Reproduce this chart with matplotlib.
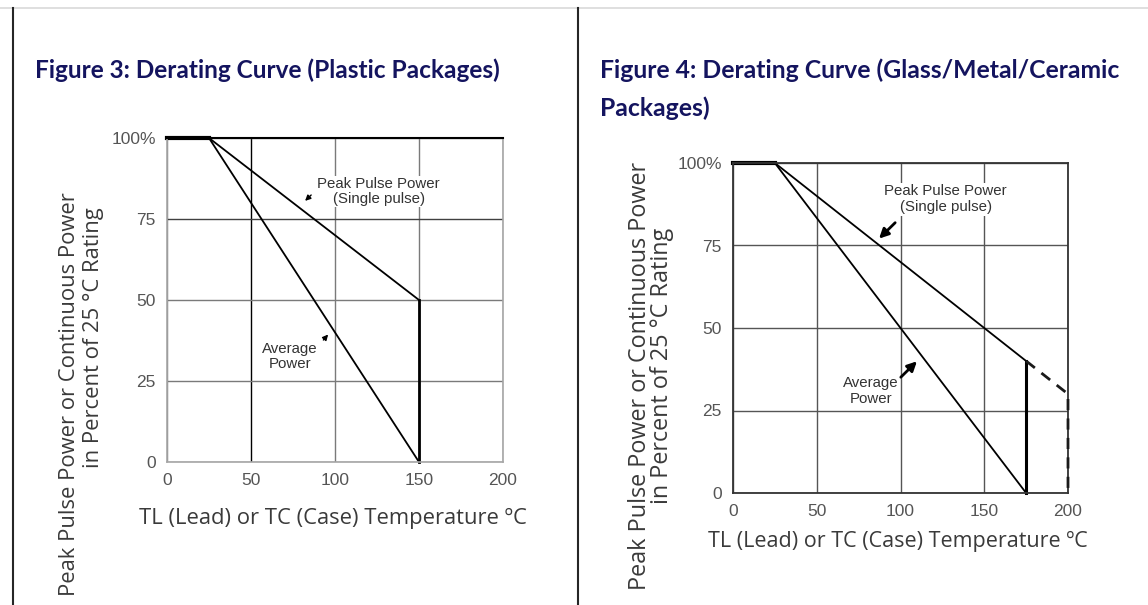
import matplotlib.pyplot as plt
from matplotlib.lines import Line2D

# --- data ---
temp_ticks = [0, 50, 100, 150, 200]
temp_labels = ['0', '50', '100', '150', '200']
pct_ticks = [0, 25, 50, 75, 100]
pct_labels = ['0', '25', '50', '75', '100%']

# Figure 3 (plastic)
plastic_peak_x = [0, 25, 150]
plastic_peak_y = [100, 100, 50]
plastic_avg_x = [25, 150]
plastic_avg_y = [100, 0]
plastic_cut_x = [150, 150]
plastic_cut_y = [50, 0]

# Figure 4 (glass/metal/ceramic)
glass_peak_x = [0, 25, 175]
glass_peak_y = [100, 100, 40]
glass_avg_x = [25, 175]
glass_avg_y = [100, 0]
glass_cut_x = [175, 175]
glass_cut_y = [40, 0]
glass_ext_x = [175, 200, 200]
glass_ext_y = [40, 30, 0]

W, H = 1148, 605
fig = plt.figure(figsize=(W / 100, H / 100), dpi=100)


def fx(px):
    return px / W


def fy(py):
    return 1 - py / H


# page frame lines
fig.add_artist(Line2D([0, 1], [fy(8), fy(8)], color='#d9d9d9', lw=1.2))
fig.add_artist(Line2D([fx(13), fx(13)], [fy(8), 0], color='#262626', lw=1.5))
fig.add_artist(Line2D([fx(578), fx(578)], [fy(8), 0], color='#262626', lw=1.5))

title_color = '#14145f'
label_color = '#3a3a3a'
tick_color = '#555555'
fig.text(fx(35), fy(70), 'Figure 3: Derating Curve (Plastic Packages)',
         fontsize=17.6, fontweight='bold', family='Lato', color=title_color,
         ha='left', va='center')
fig.text(fx(600), fy(70), 'Figure 4: Derating Curve (Glass/Metal/Ceramic',
         fontsize=17.8, fontweight='bold', family='Lato', color=title_color,
         ha='left', va='center')
fig.text(fx(600), fy(108), 'Packages)',
         fontsize=17.8, fontweight='bold', family='Lato', color=title_color,
         ha='left', va='center')


def setup_axes(ax):
    ax.set_xlim(0, 200)
    ax.set_ylim(0, 100)
    ax.set_xticks(temp_ticks)
    ax.set_xticklabels(temp_labels)
    ax.set_yticks(pct_ticks)
    ax.set_yticklabels(pct_labels)
    ax.tick_params(length=0, labelsize=12.5, labelcolor=tick_color, pad=8)
    for lab in ax.get_xticklabels() + ax.get_yticklabels():
        lab.set_family('Liberation Sans')
    ax.grid(True, color='#7a7a7a', lw=1.0)
    ax.set_axisbelow(True)


# ---------------- Figure 3 ----------------
ax1 = fig.add_axes([fx(167), fy(462), (503 - 167) / W, (462 - 138) / H])
setup_axes(ax1)
for s in ['left', 'right', 'bottom']:
    ax1.spines[s].set_color('#a6a6a6')
    ax1.spines[s].set_linewidth(1.2)
ax1.spines['top'].set_color('black')
ax1.spines['top'].set_linewidth(1.5)
ax1.get_xgridlines()[1].set_color('black')
ax1.get_ygridlines()[3].set_color('#404040')

ax1.plot(plastic_peak_x, plastic_peak_y, color='black', lw=1.3, clip_on=False)
ax1.plot(plastic_peak_x[:2], plastic_peak_y[:2], color='black', lw=3, clip_on=False)
ax1.plot(plastic_avg_x, plastic_avg_y, color='black', lw=1.3, clip_on=False)
ax1.plot(plastic_cut_x, plastic_cut_y, color='black', lw=2, clip_on=False)

ax1.text(126, 83.5, 'Peak Pulse Power\n(Single pulse)', fontsize=10.8,
         family='Liberation Sans', color='#333333', ha='center', va='center',
         linespacing=1.1, bbox=dict(facecolor='white', edgecolor='none', pad=1))
ax1.annotate('', xy=(81, 80), xytext=(87, 83),
             arrowprops=dict(arrowstyle='-|>', color='black', lw=1, mutation_scale=8))
ax1.text(73, 32.5, 'Average\nPower', fontsize=10.8, family='Liberation Sans',
         color='#333333', ha='center', va='center', linespacing=1.1,
         bbox=dict(facecolor='white', edgecolor='none', pad=1))
ax1.annotate('', xy=(97, 40), xytext=(92, 37),
             arrowprops=dict(arrowstyle='-|>', color='black', lw=1, mutation_scale=8))

fig.text(fx(333), fy(518), 'TL (Lead) or TC (Case) Temperature \u00baC',
         fontsize=15.8, family='Open Sans', color=label_color, ha='center', va='center')
fig.text(fx(70), fy(394), 'Peak Pulse Power or Continuous Power', rotation=90,
         fontsize=15.8, family='Open Sans', color=label_color, ha='center', va='center')
fig.text(fx(93), fy(338), 'in Percent of 25 \u00b0C Rating', rotation=90,
         fontsize=15.8, family='Open Sans', color=label_color, ha='center', va='center')

# ---------------- Figure 4 ----------------
ax2 = fig.add_axes([fx(733), fy(493), (1068 - 733) / W, (493 - 163) / H])
setup_axes(ax2)
ax2.grid(True, color='#555555', lw=1.0)
for s in ax2.spines.values():
    s.set_color('#333333')
    s.set_linewidth(1.3)

ax2.plot(glass_peak_x, glass_peak_y, color='black', lw=1.3, clip_on=False)
ax2.plot(glass_peak_x[:2], glass_peak_y[:2], color='black', lw=3, clip_on=False)
ax2.plot(glass_avg_x, glass_avg_y, color='black', lw=1.3, clip_on=False)
ax2.plot(glass_cut_x, glass_cut_y, color='black', lw=2.2, clip_on=False)
ax2.plot(glass_ext_x, glass_ext_y, color='#1a1a1a', lw=2.0, ls=(0, (4, 3)),
         clip_on=False, zorder=5)

ax2.text(127, 89, 'Peak Pulse Power\n(Single pulse)', fontsize=10.8,
         family='Liberation Sans', color='#333333', ha='center', va='center',
         linespacing=1.2, bbox=dict(facecolor='white', edgecolor='none', pad=1))
ax2.annotate('', xy=(86, 76.5), xytext=(98, 82.5),
             arrowprops=dict(arrowstyle='-|>', color='black', lw=2, mutation_scale=14))
ax2.text(82.5, 31, 'Average\nPower', fontsize=10.8, family='Liberation Sans',
         color='#333333', ha='center', va='center', linespacing=1.2,
         bbox=dict(facecolor='white', edgecolor='none', pad=1))
ax2.annotate('', xy=(111, 40.5), xytext=(99, 34.5),
             arrowprops=dict(arrowstyle='-|>', color='black', lw=2, mutation_scale=14))

fig.text(fx(898), fy(541), 'TL (Lead) or TC (Case) Temperature \u00baC',
         fontsize=15.5, family='Open Sans', color=label_color, ha='center', va='center')
fig.text(fx(640), fy(376), 'Peak Pulse Power or Continuous Power', rotation=90,
         fontsize=16.8, family='Open Sans', color=label_color, ha='center', va='center')
fig.text(fx(662), fy(366), 'in Percent of 25 \u00b0C Rating', rotation=90,
         fontsize=16.8, family='Open Sans', color=label_color, ha='center', va='center')

fig.savefig('out.png', dpi=100)
